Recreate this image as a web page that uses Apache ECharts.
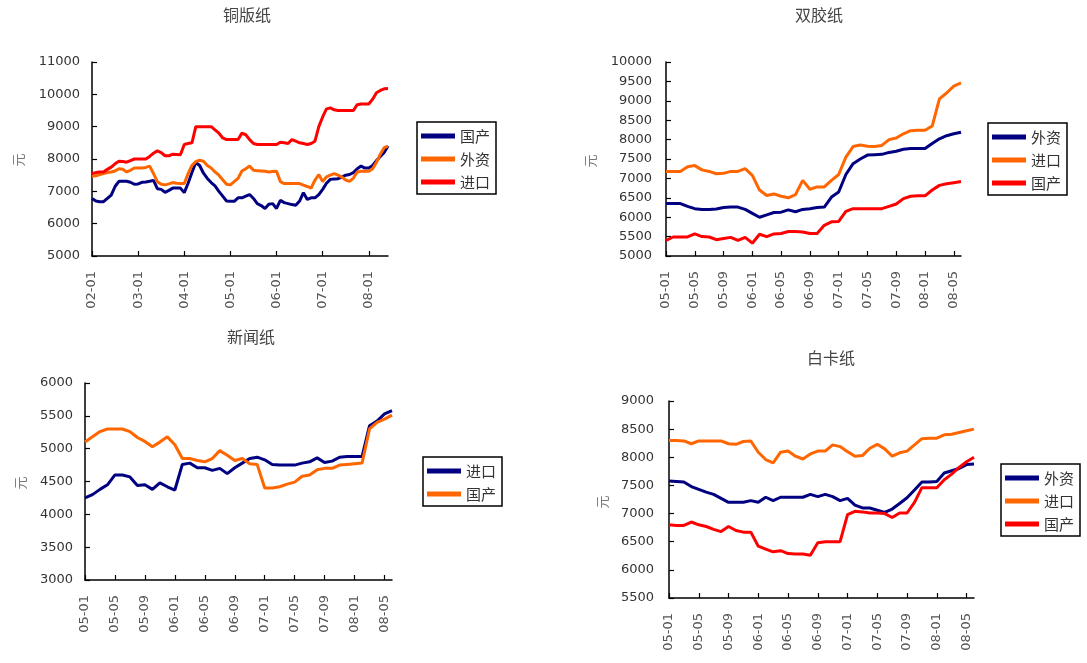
<!DOCTYPE html>
<html><head><meta charset="utf-8">
<script src="https://cdn.jsdelivr.net/npm/echarts@6/dist/echarts.min.js"></script>
<style>
html,body{margin:0;padding:0;background:#fff;width:1087px;height:663px;overflow:hidden}
.p{position:absolute;left:0;top:0;width:1087px;height:663px}
</style>
</head><body>
<div id="c1" class="p"></div>
<div id="c2" class="p"></div>
<div id="c3" class="p"></div>
<div id="c4" class="p"></div>
<script>
// ---------- categories ----------
var catA = [
 '02-01','02-02','02-03','02-04','02-05','02-06','02-07','02-08','02-09','02-10','02-11','02-12',
 '03-01','03-02','03-03','03-04','03-05','03-06','03-07','03-08','03-09','03-10','03-11','03-12',
 '04-01','04-02','04-03','04-04','04-05','04-06','04-07','04-08','04-09','04-10','04-11','04-12',
 '05-01','05-02','05-03','05-04','05-05','05-06','05-07','05-08','05-09','05-10','05-11','05-12',
 '06-01','06-02','06-03','06-04','06-05','06-06','06-07','06-08','06-09','06-10','06-11','06-12',
 '07-01','07-02','07-03','07-04','07-05','07-06','07-07','07-08','07-09','07-10','07-11','07-12',
 '08-01','08-02','08-03','08-04','08-05','08-06'];
var catB = [
 '05-01','05-02','05-03','05-04','05-05','05-06','05-07','05-08','05-09','05-10','05-11','05-12',
 '06-01','06-02','06-03','06-04','06-05','06-06','06-07','06-08','06-09','06-10','06-11','06-12',
 '07-01','07-02','07-03','07-04','07-05','07-06','07-07','07-08','07-09','07-10','07-11','07-12',
 '08-01','08-02','08-03','08-04','08-05','08-06'];

// ---------- 铜版纸 ----------
var tb_guochan = [6780,6700,6680,6680,6780,6880,7150,7310,7310,7310,7280,7220,
 7230,7280,7290,7310,7340,7080,7060,6970,7030,7100,7100,7100,
 6960,7250,7580,7890,7800,7560,7400,7270,7170,7000,6850,6700,
 6690,6690,6800,6800,6850,6900,6780,6620,6560,6470,6600,6620,
 6470,6720,6650,6620,6590,6570,6700,6960,6750,6800,6800,6900,
 7060,7250,7370,7380,7390,7440,7500,7520,7580,7700,7780,7720,
 7720,7800,7950,8080,8200,8400];
var tb_waizi = [7470,7480,7520,7550,7580,7600,7630,7700,7680,7600,7650,7720,
 7720,7720,7740,7780,7550,7300,7220,7200,7230,7270,7250,7240,
 7240,7550,7800,7920,7960,7930,7800,7720,7600,7500,7360,7220,
 7200,7300,7400,7630,7700,7780,7650,7640,7630,7620,7600,7610,
 7620,7300,7240,7240,7240,7240,7240,7190,7150,7100,7350,7520,
 7300,7450,7500,7550,7500,7440,7350,7310,7410,7600,7620,7620,
 7620,7700,7900,8150,8350,8400];
var tb_jinkou = [7550,7580,7600,7600,7680,7750,7850,7930,7920,7900,7950,8000,
 8000,8000,8000,8080,8180,8250,8200,8100,8100,8150,8140,8130,
 8450,8480,8500,9000,9000,9000,9000,9000,8900,8800,8650,8600,
 8600,8600,8600,8800,8750,8600,8480,8450,8450,8450,8450,8450,
 8450,8520,8500,8480,8600,8550,8500,8480,8450,8480,8550,9000,
 9300,9550,9580,9520,9500,9500,9500,9500,9500,9680,9700,9700,
 9700,9850,10050,10120,10170,10180];

// ---------- 双胶纸 ----------
var sj_waizi = [6350,6350,6350,6280,6220,6200,6200,6210,6250,6260,6260,6200,
 6100,6000,6060,6120,6130,6190,6140,6200,6220,6250,6260,6520,
 6650,7100,7380,7500,7600,7610,7620,7670,7700,7750,7770,7770,
 7770,7900,8020,8100,8150,8190];
var sj_jinkou = [7180,7180,7180,7300,7330,7220,7180,7120,7130,7180,7180,7250,
 7080,6700,6560,6600,6540,6500,6580,6950,6720,6780,6780,6950,
 7100,7550,7820,7860,7830,7820,7850,8000,8040,8150,8230,8240,
 8240,8350,9050,9200,9380,9460];
var sj_guochan = [5400,5490,5490,5490,5570,5500,5490,5420,5450,5480,5400,5480,
 5330,5560,5500,5570,5580,5630,5630,5620,5580,5580,5790,5880,
 5890,6150,6220,6220,6220,6220,6220,6280,6340,6480,6540,6550,
 6550,6700,6820,6860,6890,6920];

// ---------- 新闻纸 ----------
var xw_jinkou = [4250,4300,4380,4450,4600,4600,4570,4440,4450,4380,4480,4420,
 4370,4760,4780,4710,4710,4670,4700,4620,4710,4780,4850,4870,
 4830,4760,4750,4750,4750,4780,4800,4860,4790,4810,4870,4880,
 4880,4880,5350,5420,5530,5580];
var xw_guochan = [5100,5180,5260,5300,5300,5300,5260,5170,5110,5030,5100,5180,
 5060,4850,4850,4820,4800,4850,4970,4900,4820,4850,4770,4760,
 4400,4400,4420,4460,4490,4580,4600,4680,4700,4700,4750,4760,
 4770,4780,5300,5400,5450,5510];

// ---------- 白卡纸 ----------
var bk_waizi = [7580,7570,7560,7480,7430,7380,7340,7270,7200,7200,7200,7230,
 7200,7290,7230,7290,7290,7290,7290,7340,7300,7340,7300,7230,
 7270,7150,7100,7100,7060,7020,7080,7180,7280,7420,7560,7560,
 7570,7720,7760,7800,7870,7880];
var bk_jinkou = [8300,8300,8290,8240,8290,8290,8290,8290,8240,8230,8280,8290,
 8090,7960,7900,8090,8110,8020,7970,8060,8110,8110,8220,8190,
 8100,8020,8030,8160,8230,8150,8020,8080,8110,8220,8330,8340,
 8340,8400,8410,8440,8470,8500];
var bk_guochan = [6800,6790,6790,6850,6800,6770,6720,6680,6770,6700,6670,6670,
 6420,6370,6320,6340,6290,6280,6280,6260,6480,6500,6500,6500,
 6980,7040,7030,7010,7010,7000,6930,7010,7010,7200,7460,7460,
 7460,7600,7700,7820,7920,8000];

var NAVY = '#000080', ORANGE = '#FF6600', RED = '#FF0000';
var CJK = '"Noto Sans CJK SC", sans-serif';
var NUM = '"DejaVu Sans", Verdana, sans-serif';

function makePanel(id, cfg) {
  var chart = echarts.init(document.getElementById(id), null, {renderer: 'canvas'});
  var series = cfg.series.map(function (s) {
    return {
      type: 'line', name: s.name, data: s.data, showSymbol: false, symbol: 'none',
      smooth: false, animation: false,
      lineStyle: {color: s.color, width: 3}, itemStyle: {color: s.color}
    };
  });
  chart.setOption({
    animation: false,
    grid: {left: cfg.grid[0], top: cfg.grid[1], width: cfg.grid[2], height: cfg.grid[3]},
    xAxis: {
      type: 'category', data: cfg.cats, boundaryGap: false,
      axisLine: {lineStyle: {color: '#000', width: 1.5}},
      axisTick: {inside: true, length: 5, interval: cfg.step, lineStyle: {color: '#000', width: 1.2}},
      axisLabel: {interval: cfg.step, rotate: 90, margin: 15, fontSize: 13, color: '#555', fontFamily: NUM},
      splitLine: {show: false}
    },
    yAxis: {
      type: 'value', min: cfg.y[0], max: cfg.y[1], interval: cfg.y[2],
      axisLine: {show: true, lineStyle: {color: '#000', width: 1.5}},
      axisTick: {show: true, inside: true, length: 5, lineStyle: {color: '#000', width: 1.2}},
      axisLabel: {margin: cfg.ymargin, fontSize: 13, color: '#333', fontFamily: NUM,
                  formatter: function (v) { return String(v); }},
      splitLine: {show: false}
    },
    legend: {
      orient: 'vertical', left: cfg.legend[0], top: cfg.legend[1],
      data: cfg.series.map(function (s) { return s.name; }),
      icon: 'rect', itemWidth: 34, itemHeight: 5, itemGap: 5,
      borderColor: '#000', borderWidth: 1.5, padding: [5, 6, 3, 4],
      selectedMode: false,
      textStyle: {fontSize: 15, fontFamily: CJK, color: '#333', lineHeight: 18}
    },
    graphic: [
      {type: 'text', x: cfg.title[1], y: cfg.title[2],
       style: {text: cfg.title[0], fill: '#444', font: '16px ' + CJK, align: 'center', verticalAlign: 'middle', textAlign: 'center', textVerticalAlign: 'middle'}},
      {type: 'text', x: cfg.yname[0], y: cfg.yname[1], rotation: Math.PI / 2,
       style: {text: '元', fill: '#777', font: '13px ' + CJK, align: 'center', verticalAlign: 'middle', textAlign: 'center', textVerticalAlign: 'middle'}}
    ],
    series: series
  });
}

makePanel('c1', {
  cats: catA, step: 11, grid: [92, 62, 296, 194], y: [5000, 11000, 1000], ymargin: 12,
  legend: [417, 122], title: ['铜版纸', 247, 15], yname: [18, 160],
  series: [
    {name: '国产', data: tb_guochan, color: NAVY},
    {name: '外资', data: tb_waizi, color: ORANGE},
    {name: '进口', data: tb_jinkou, color: RED}
  ]
});
makePanel('c2', {
  cats: catB, step: 3, grid: [666, 62, 295, 194], y: [5000, 10000, 500], ymargin: 14,
  legend: [988, 123], title: ['双胶纸', 819, 15], yname: [590, 161],
  series: [
    {name: '外资', data: sj_waizi, color: NAVY},
    {name: '进口', data: sj_jinkou, color: ORANGE},
    {name: '国产', data: sj_guochan, color: RED}
  ]
});
makePanel('c3', {
  cats: catB, step: 3, grid: [85, 383, 307, 197], y: [3000, 6000, 500], ymargin: 12,
  legend: [423, 457], title: ['新闻纸', 251, 337], yname: [20, 483],
  series: [
    {name: '进口', data: xw_jinkou, color: NAVY},
    {name: '国产', data: xw_guochan, color: ORANGE}
  ]
});
makePanel('c4', {
  cats: catB, step: 3, grid: [669, 401, 305, 197], y: [5500, 9000, 500], ymargin: 15,
  legend: [1001, 464], title: ['白卡纸', 831, 358], yname: [602, 502],
  series: [
    {name: '外资', data: bk_waizi, color: NAVY},
    {name: '进口', data: bk_jinkou, color: ORANGE},
    {name: '国产', data: bk_guochan, color: RED}
  ]
});
</script>
</body></html>
